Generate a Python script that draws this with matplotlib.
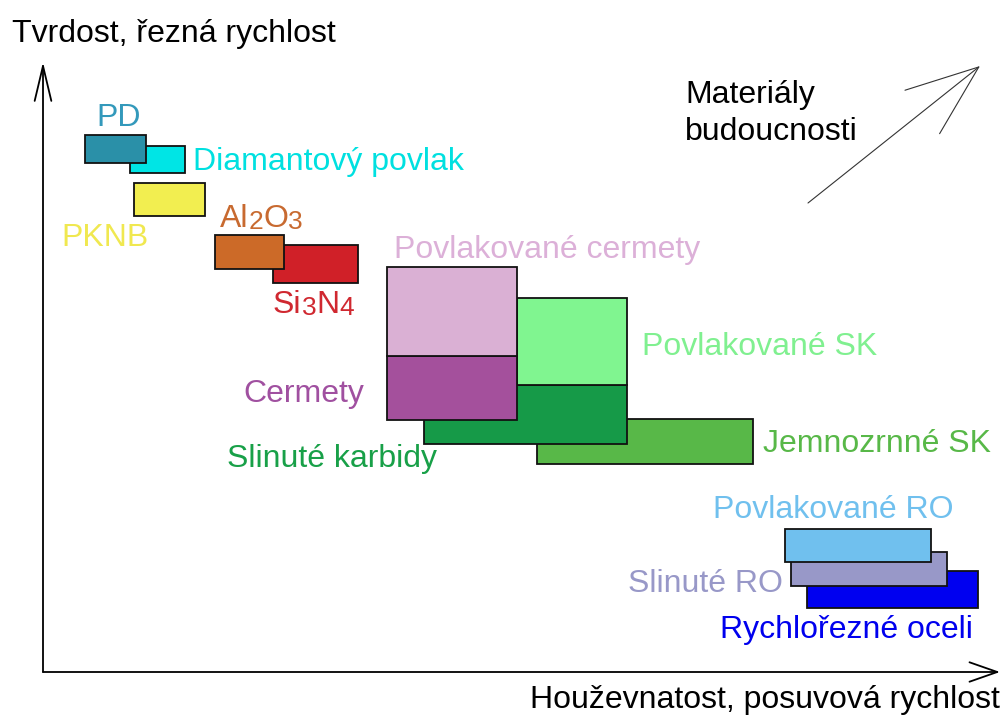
import re
import matplotlib
matplotlib.use("Agg")
import matplotlib.pyplot as plt
from matplotlib.patches import Rectangle

plt.rcParams['font.family'] = ['Liberation Sans', 'DejaVu Sans']

# ---- data (toughness on x, hardness on y; arbitrary units) ----
# "_" marks a subscript digit (Si_3N_4 -> Si3N4 with small 3 and 4)
labels = ["Jemnozrnné SK", "Slinuté karbidy", "Povlakované SK", "Cermety",
          "Povlakované cermety", "Si_3N_4", "Al_2O_3", "PKNB",
          "Diamantový povlak", "PD", "Rychlořezné oceli", "Slinuté RO",
          "Povlakované RO"]
tough_lo = [494, 381, 474, 344, 344, 230, 172, 91, 87, 42, 764, 748, 742]
tough_hi = [710, 584, 584, 474, 474, 315, 241, 162, 142, 103, 935, 904, 888]
hard_lo = [208, 228, 287, 252, 316, 389, 403, 456, 499, 509, 64, 86, 110]
hard_hi = [253, 287, 374, 316, 405, 427, 437, 489, 526, 537, 101, 120, 143]
colors = ["#58b848", "#169a48", "#80f590", "#a4509c", "#dab0d4", "#d02028",
          "#cc6a28", "#f2ee50", "#00e5e5", "#2a90a8", "#0000f0", "#9898c8",
          "#70c0ee"]
text_colors = ["#58b848", "#18a048", "#80f090", "#a050a0", "#dcb0d8", "#d02830",
               "#c86a30", "#f0e850", "#00e0e0", "#3399bb", "#0000ee", "#9898c8",
               "#70c0ee"]
label_x = [720, 184, 599, 200, 351, 230, 177, 18, 150, 53, 677, 585, 670]
label_y = [220, 205, 317, 270, 414, 359, 445, 426, 502, 546, 34, 80, 154]

y_title = "Tvrdost, řezná rychlost"
x_title = "Houževnatost, posuvová rychlost"
future_lines = ["Materiály", "budoucnosti"]

fig = plt.figure(figsize=(10.02, 7.2), dpi=100)
ax = fig.add_axes([0, 0, 1, 1])
ax.set_xlim(-43, 959)
ax.set_ylim(-48, 672)
ax.axis('off')

FS = 23
FS_SUB = 19

# axes arrows
ax.annotate("", xy=(0, 610), xytext=(0, 0),
            arrowprops=dict(arrowstyle="->,head_length=1.26,head_width=0.3",
                            mutation_scale=20, lw=1.3, color="black",
                            shrinkA=0, shrinkB=0))
ax.annotate("", xy=(957, 0), xytext=(0, 0),
            arrowprops=dict(arrowstyle="->,head_length=1.0,head_width=0.35",
                            mutation_scale=20, lw=1.3, color="black",
                            shrinkA=0, shrinkB=0))

# boxes
for lo, hi, b, t, c in zip(tough_lo, tough_hi, hard_lo, hard_hi, colors):
    ax.add_patch(Rectangle((lo, b), hi - lo, t - b, facecolor=c,
                           edgecolor="#111111", lw=1.3))


def draw_label(s, x, y, c):
    parts = re.split(r"_(\d)", s)
    # parts alternate: normal, sub, normal, sub, ...
    first = ax.text(x, y, parts[0], color=c, fontsize=FS, ha="left",
                    va="baseline")
    prev = first
    for i, p in enumerate(parts[1:], start=1):
        if not p:
            continue
        fs = FS_SUB if i % 2 == 1 else FS
        prev = ax.annotate(p, xy=(1, 0), xycoords=prev, color=c, fontsize=fs,
                           ha="left", va="bottom")


for s, x, y, c in zip(labels, label_x, label_y, text_colors):
    draw_label(s, x, y, c)

ax.text(-31, 630, y_title, fontsize=FS, ha="left", va="baseline", color="black")
ax.text(957, -36, x_title, fontsize=FS, ha="right", va="baseline", color="black")

# future materials arrow
ax.annotate("", xy=(937, 606), xytext=(765, 469),
            arrowprops=dict(arrowstyle="->,head_length=2.6,head_width=1.0",
                            mutation_scale=20, lw=0.8, color="#333333",
                            shrinkA=0, shrinkB=0))
for i, s in enumerate(future_lines):
    ax.text(642, 569 - 37 * i, s, fontsize=FS, ha="left", va="baseline",
            color="black")

fig.savefig("out.png", dpi=100)
